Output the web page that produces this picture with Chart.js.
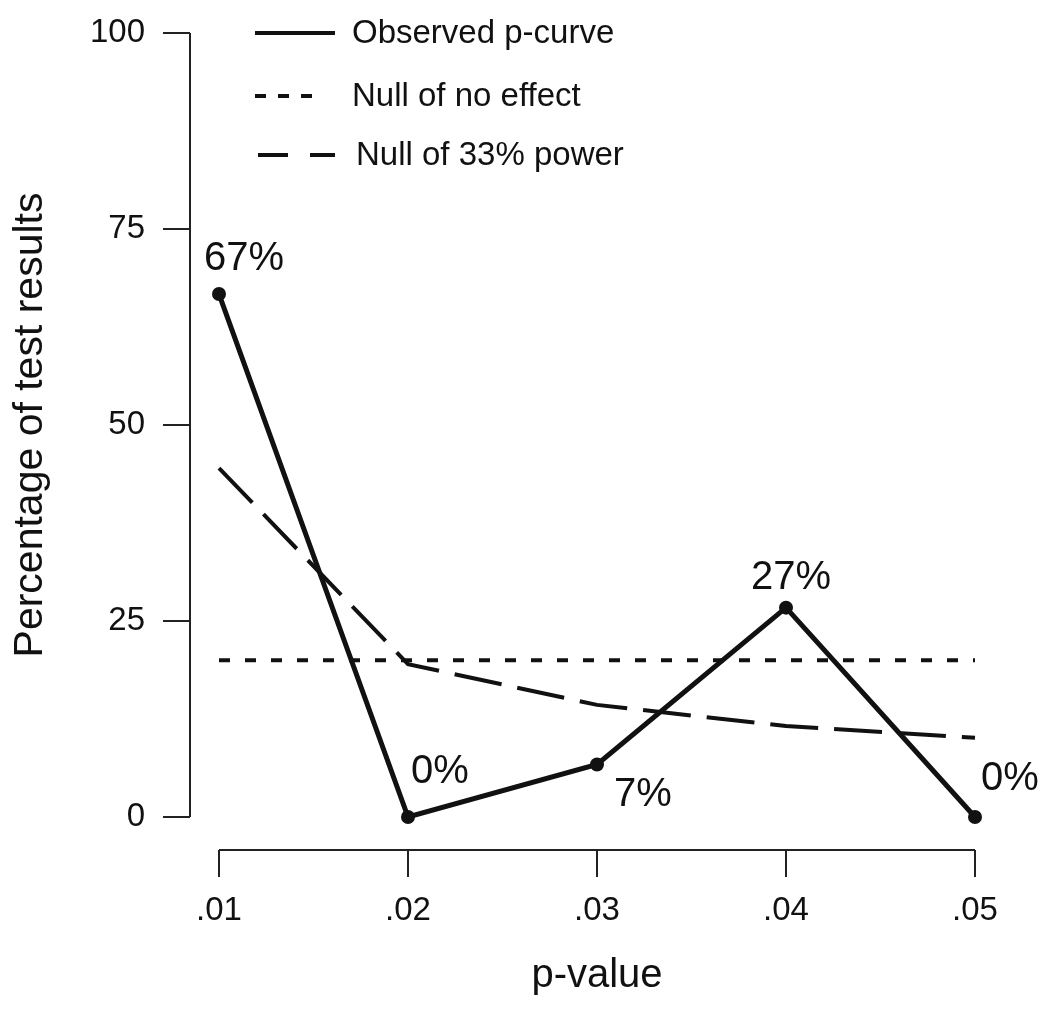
<!DOCTYPE html>
<html lang="en">
<head>
  <meta charset="UTF-8" />
  <title>p-curve</title>
  <script src="https://cdn.jsdelivr.net/npm/chart.js"></script>
  <style>
    body {
      margin: 0;
      background: #fff;
    }
  </style>
</head>
<body>
  <canvas id="pcurve" width="1050" height="1013"></canvas>

  <script>
    // data
    const pValues = ['.01', '.02', '.03', '.04', '.05'];
    const observed = [66.7, 0, 6.7, 26.7, 0];
    const nullNoEffect = [20, 20, 20, 20, 20];
    const null33Power = [44.5, 19.5, 14.3, 11.6, 10.1];
    const yTicks = [0, 25, 50, 75, 100];
    const seriesNames = ['Observed p-curve', 'Null of no effect', 'Null of 33% power'];

    const FONT = 'Liberation Sans, Arial, Helvetica, sans-serif';
    const INK = '#111';

    // where each percentage label sits relative to its point (px)
    const labelOffsets = [[25, -35], [32, -45], [46, 30], [5, -30], [35, -38]];

    // R-style detached axes
    const detachedAxes = {
      id: 'detachedAxes',
      afterDraw(chart) {
        const { ctx, scales: { x, y } } = chart;
        const axX = x.left - 29;
        const axY = y.bottom + 33;
        ctx.save();
        ctx.strokeStyle = '#222';
        ctx.lineWidth = 2;
        ctx.beginPath();
        ctx.moveTo(axX, y.getPixelForValue(yTicks[yTicks.length - 1]));
        ctx.lineTo(axX, y.getPixelForValue(yTicks[0]));
        yTicks.forEach(t => {
          const py = y.getPixelForValue(t);
          ctx.moveTo(axX - 27, py);
          ctx.lineTo(axX, py);
        });
        ctx.moveTo(x.getPixelForValue(0), axY);
        ctx.lineTo(x.getPixelForValue(pValues.length - 1), axY);
        pValues.forEach((_, i) => {
          const px = x.getPixelForValue(i);
          ctx.moveTo(px, axY);
          ctx.lineTo(px, axY + 27);
        });
        ctx.stroke();
        ctx.restore();
      }
    };

    const pointLabels = {
      id: 'pointLabels',
      afterDatasetsDraw(chart) {
        const { ctx } = chart;
        const meta = chart.getDatasetMeta(0);
        ctx.save();
        ctx.font = '40px ' + FONT;
        ctx.fillStyle = INK;
        ctx.textAlign = 'center';
        ctx.textBaseline = 'middle';
        meta.data.forEach((pt, i) => {
          const [dx, dy] = labelOffsets[i];
          ctx.fillText(Math.round(observed[i]) + '%', pt.x + dx, pt.y + dy);
        });
        ctx.restore();
      }
    };

    const legendBox = {
      id: 'legendBox',
      afterDraw(chart) {
        const { ctx } = chart;
        const rows = [
          { y: 33, x0: 255, x1: 335, dash: [], tx: 352 },
          { y: 96, x0: 255, x1: 318, dash: [11, 12], tx: 352 },
          { y: 155, x0: 258, x1: 335, dash: [30, 22], tx: 356 }
        ];
        ctx.save();
        ctx.strokeStyle = INK;
        ctx.fillStyle = INK;
        ctx.lineWidth = 4;
        ctx.font = '33px ' + FONT;
        ctx.textBaseline = 'middle';
        rows.forEach((r, i) => {
          ctx.setLineDash(r.dash);
          ctx.beginPath();
          ctx.moveTo(r.x0, r.y);
          ctx.lineTo(r.x1, r.y);
          ctx.stroke();
          ctx.fillText(chart.data.datasets[i].label, r.tx, r.y + 1);
        });
        ctx.restore();
      }
    };

    // invisible tick marks push the labels away from the plot without extra layout padding
    const hiddenTicks = { display: false, drawTicks: true, tickLength: 74, tickColor: 'rgba(0,0,0,0)' };

    new Chart(document.getElementById('pcurve'), {
      type: 'line',
      data: {
        labels: pValues,
        datasets: [
          {
            label: seriesNames[0],
            data: observed,
            borderColor: INK,
            backgroundColor: INK,
            borderWidth: 5,
            pointRadius: 7,
            pointBackgroundColor: INK,
            pointBorderWidth: 0,
            tension: 0,
            clip: false
          },
          {
            label: seriesNames[1],
            data: nullNoEffect,
            borderColor: INK,
            borderWidth: 4,
            borderDash: [11, 15],
            pointRadius: 0,
            tension: 0
          },
          {
            label: seriesNames[2],
            data: null33Power,
            borderColor: INK,
            borderWidth: 4,
            borderDash: [48, 16],
            pointRadius: 0,
            tension: 0
          }
        ]
      },
      options: {
        responsive: false,
        animation: false,
        layout: { padding: { top: 33, right: 75, left: 0, bottom: 0 } },
        plugins: {
          legend: { display: false },
          tooltip: { enabled: false }
        },
        scales: {
          x: {
            grid: hiddenTicks,
            border: { display: false },
            ticks: {
              color: INK,
              font: { family: FONT, size: 33 },
              padding: 0,
              autoSkip: false,
              maxRotation: 0
            },
            title: {
              display: true,
              text: 'p-value',
              color: INK,
              font: { family: FONT, size: 40, lineHeight: 1 },
              padding: { top: 0, bottom: 17 }
            },
            afterFit(s) { s.height = 196; }
          },
          y: {
            min: 0,
            max: 100,
            grid: hiddenTicks,
            border: { display: false },
            ticks: {
              stepSize: 25,
              color: INK,
              font: { family: FONT, size: 33 },
              padding: 0
            },
            title: {
              display: true,
              text: 'Percentage of test results',
              color: INK,
              font: { family: FONT, size: 41, lineHeight: 1 },
              padding: { top: 10, bottom: 0 }
            },
            afterFit(s) { s.width = 219; }
          }
        }
      },
      plugins: [detachedAxes, pointLabels, legendBox]
    });
  </script>
</body>
</html>
